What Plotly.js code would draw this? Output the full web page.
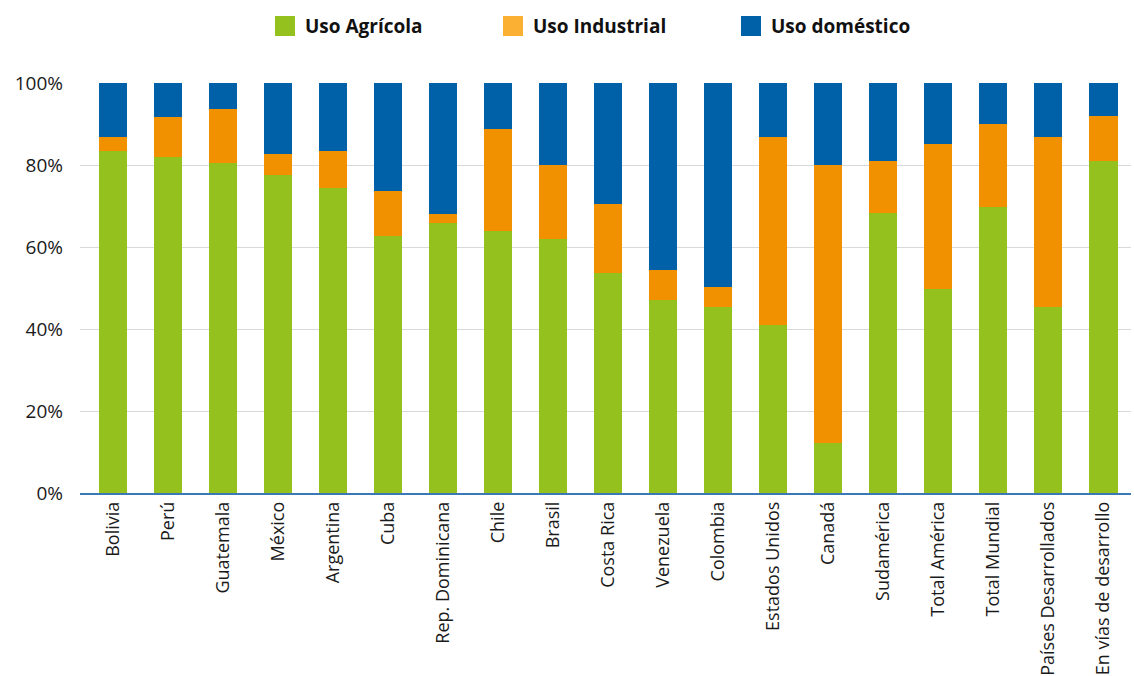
<!DOCTYPE html>
<html>
<head>
<meta charset="utf-8">
<script src="https://cdn.plot.ly/plotly-3.0.1.min.js"></script>
<style>
  html, body { margin: 0; padding: 0; background: #ffffff; }
  #chart { width: 1134px; height: 676px; }
</style>
</head>
<body>
<div id="chart"></div>
<script>
// Water withdrawal by use, share of total (%)
const categories = [
  "Bolivia", "Perú", "Guatemala", "México", "Argentina", "Cuba",
  "Rep. Dominicana", "Chile", "Brasil", "Costa Rica", "Venezuela",
  "Colombia", "Estados Unidos", "Canadá", "Sudamérica", "Total América",
  "Total Mundial", "Países Desarrollados", "En vías de desarrollo"
];
const usoAgricola = [83.5, 82.0, 80.6, 77.6, 74.5, 62.8, 65.9, 63.8, 62.0, 53.6, 47.1, 45.3, 40.9, 12.1, 68.2, 49.8, 69.8, 45.3, 80.9];
const usoIndustrial = [3.4, 9.8, 13.1, 5.2, 9.0, 10.9, 2.2, 25.1, 18.1, 17.0, 7.4, 5.0, 46.0, 68.0, 12.8, 35.4, 20.3, 41.6, 11.1];
const usoDomestico = [13.1, 8.2, 6.3, 17.2, 16.5, 26.3, 31.9, 11.1, 19.9, 29.4, 45.5, 49.7, 13.1, 19.9, 19.0, 14.8, 9.9, 13.1, 8.0];
const seriesNames = ["Uso Agrícola", "Uso Industrial", "Uso doméstico"];
const yTicks = [0, 20, 40, 60, 80, 100];
const yTickLabels = ["0%", "20%", "40%", "60%", "80%", "100%"];

const FONT = "'Open Sans', 'DejaVu Sans', sans-serif";
const COLORS = ["#95C11F", "#F29100", "#0061A8"];
const LEGEND_SWATCH = ["#95C11F", "#FBB034", "#0061A8"];

const W = 1134, H = 676;
const M = { l: 80, r: 3, t: 83, b: 183 };
const plotW = W - M.l - M.r, plotH = H - M.t - M.b;
// pixel helpers -> paper coordinates (for the header legend)
const px = x => (x - M.l) / plotW;
const py = y => (H - M.b - y) / plotH;

const traces = [usoAgricola, usoIndustrial, usoDomestico].map((vals, k) => ({
  type: "bar",
  name: seriesNames[k],
  x: categories.map((_, i) => i),
  y: vals,
  marker: { color: COLORS[k], line: { width: 0 } },
  hoverinfo: "x+y+name",
  showlegend: false
}));

// Legend row drawn as swatches + labels above the plot
const legendLeft = [275, 503, 741];
const shapes = legendLeft.map((x0, k) => ({
  type: "rect", xref: "paper", yref: "paper",
  x0: px(x0), x1: px(x0 + 20), y0: py(36), y1: py(16),
  fillcolor: LEGEND_SWATCH[k], line: { width: 0 }
}));
const annotations = legendLeft.map((x0, k) => ({
  xref: "paper", yref: "paper",
  x: px(x0 + 28), y: py(26),
  xanchor: "left", yanchor: "middle",
  showarrow: false,
  text: "<b>" + seriesNames[k] + "</b>",
  font: { family: FONT, size: 19, color: "#111111" }
}));

const layout = {
  width: W,
  height: H,
  margin: M,
  paper_bgcolor: "#ffffff",
  plot_bgcolor: "#ffffff",
  barmode: "stack",
  bargap: 0.49,
  font: { family: FONT, color: "#1a1a1a", size: 18 },
  showlegend: false,
  shapes: shapes,
  annotations: annotations,
  xaxis: {
    type: "linear",
    range: [-0.6, 18.5],
    tickmode: "array",
    tickvals: categories.map((_, i) => i),
    ticktext: categories,
    tickangle: -90,
    tickfont: { family: FONT, size: 18, color: "#1a1a1a" },
    showgrid: false,
    zeroline: false,
    showline: true,
    linecolor: "#3B78B8",
    linewidth: 1.5,
    ticks: "",
    fixedrange: true
  },
  yaxis: {
    range: [0, 100],
    tickmode: "array",
    tickvals: yTicks,
    ticktext: yTickLabels,
    tickfont: { family: FONT, size: 19, color: "#1a1a1a" },
    showgrid: true,
    gridcolor: "#d9d9d9",
    gridwidth: 1,
    zeroline: false,
    showline: false,
    ticks: "",
    ticklabelstandoff: 16,
    fixedrange: true
  }
};

Plotly.newPlot("chart", traces, layout, { displayModeBar: false, staticPlot: true });
</script>
</body>
</html>
